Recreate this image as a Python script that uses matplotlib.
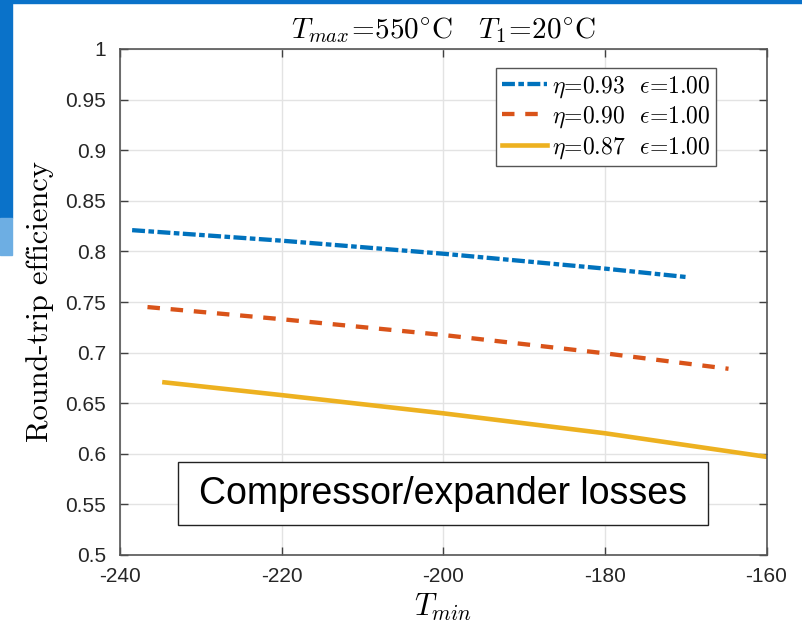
import matplotlib
matplotlib.use("Agg")
import matplotlib.pyplot as plt
from matplotlib.patches import Rectangle

plt.rcParams['font.family'] = ['Liberation Sans', 'DejaVu Sans']
plt.rcParams['mathtext.fontset'] = 'cm'
plt.rcParams['axes.unicode_minus'] = False

# round-trip efficiency vs. T_min for three compressor/expander efficiencies
t_093 = [-238.5, -220, -200, -180, -169.6]
rte_093 = [0.821, 0.8106, 0.7977, 0.783, 0.7744]

t_090 = [-236.6, -220, -200, -180, -164.7]
rte_090 = [0.745, 0.733, 0.7174, 0.6993, 0.684]

t_087 = [-234.5, -220, -200, -180, -160]
rte_087 = [0.6706, 0.658, 0.640, 0.6203, 0.597]

labels = [r'$\eta$=0.93  $\epsilon$=1.00',
          r'$\eta$=0.90  $\epsilon$=1.00',
          r'$\eta$=0.87  $\epsilon$=1.00']
xticks = [-240, -220, -200, -180, -160]
yticks = [0.5, 0.55, 0.6, 0.65, 0.7, 0.75, 0.8, 0.85, 0.9, 0.95, 1]
ytick_labels = ['0.5', '0.55', '0.6', '0.65', '0.7', '0.75', '0.8', '0.85', '0.9', '0.95', '1']

fig = plt.figure(figsize=(8.02, 6.29), dpi=100)

# slide decoration: top bar and left strip
fig.patches.append(Rectangle((0, 1 - 3 / 629), 1, 3 / 629, transform=fig.transFigure,
                             color='#0A72C9', zorder=0))
fig.patches.append(Rectangle((0, 1 - 218 / 629), 12 / 802, 218 / 629, transform=fig.transFigure,
                             color='#0A72C9', zorder=0))
fig.patches.append(Rectangle((0, 1 - 255 / 629), 12 / 802, 37 / 629, transform=fig.transFigure,
                             color='#6DAEE3', zorder=0))

ax = fig.add_axes([120 / 802, 74 / 629, 646.5 / 802, 506 / 629])

ax.plot(t_093, rte_093, color='#0072BD', lw=3.1, dashes=(3.0, 0.8, 1.3, 0.8),
        dash_capstyle='butt', label=labels[0])
ax.plot(t_090, rte_090, color='#D95319', lw=3.1, dashes=(2.9, 2.5),
        dash_capstyle='butt', label=labels[1])
ax.plot(t_087, rte_087, color='#EDB120', lw=3.3, label=labels[2])

ax.set_xlim(-240, -160)
ax.set_ylim(0.5, 1)
ax.set_xticks(xticks)
ax.set_xticklabels([str(v) for v in xticks])
ax.set_yticks(yticks)
ax.set_yticklabels(ytick_labels)
ax.grid(True, color='#e3e3e3', lw=1)
ax.set_axisbelow(True)
ax.tick_params(direction='in', length=6, width=1, colors='#404040', labelcolor='#262626',
               labelsize=15, top=True, right=True)
ax.tick_params(axis='x', pad=9)
ax.tick_params(axis='y', pad=10)
for s in ax.spines.values():
    s.set_color('#555555')
    s.set_linewidth(1.2)

ax.set_title(r'$T_{max}\!=\!550^{\circ}\mathrm{C}\ \ \ T_1\!=\!20^{\circ}\mathrm{C}$',
             fontsize=21, pad=8)
ax.set_ylabel('Round-trip efficiency', fontfamily='cmr10', fontsize=22, labelpad=8)
ax.set_xlabel(r'$T_{min}$', fontsize=22, labelpad=4)

leg = ax.legend(loc='upper right', bbox_to_anchor=(0.922, 0.9625), prop={'family': 'cmr10', 'size': 17},
                handlelength=1.9, handletextpad=0.2, borderaxespad=0, fancybox=False,
                framealpha=1, labelspacing=0.2, borderpad=0.25)
leg.get_frame().set_edgecolor('#555555')
leg.get_frame().set_linewidth(1)

# annotation box
ax.add_patch(Rectangle((0.0897, 0.0593), 0.8198, 0.1245, transform=ax.transAxes,
                       fc='white', ec='#222222', lw=1, zorder=4))
ax.text(0.5, 0.1215, 'Compressor/expander losses', transform=ax.transAxes, ha='center',
        va='center', fontsize=27, zorder=5)

fig.savefig('out.png', dpi=100)
